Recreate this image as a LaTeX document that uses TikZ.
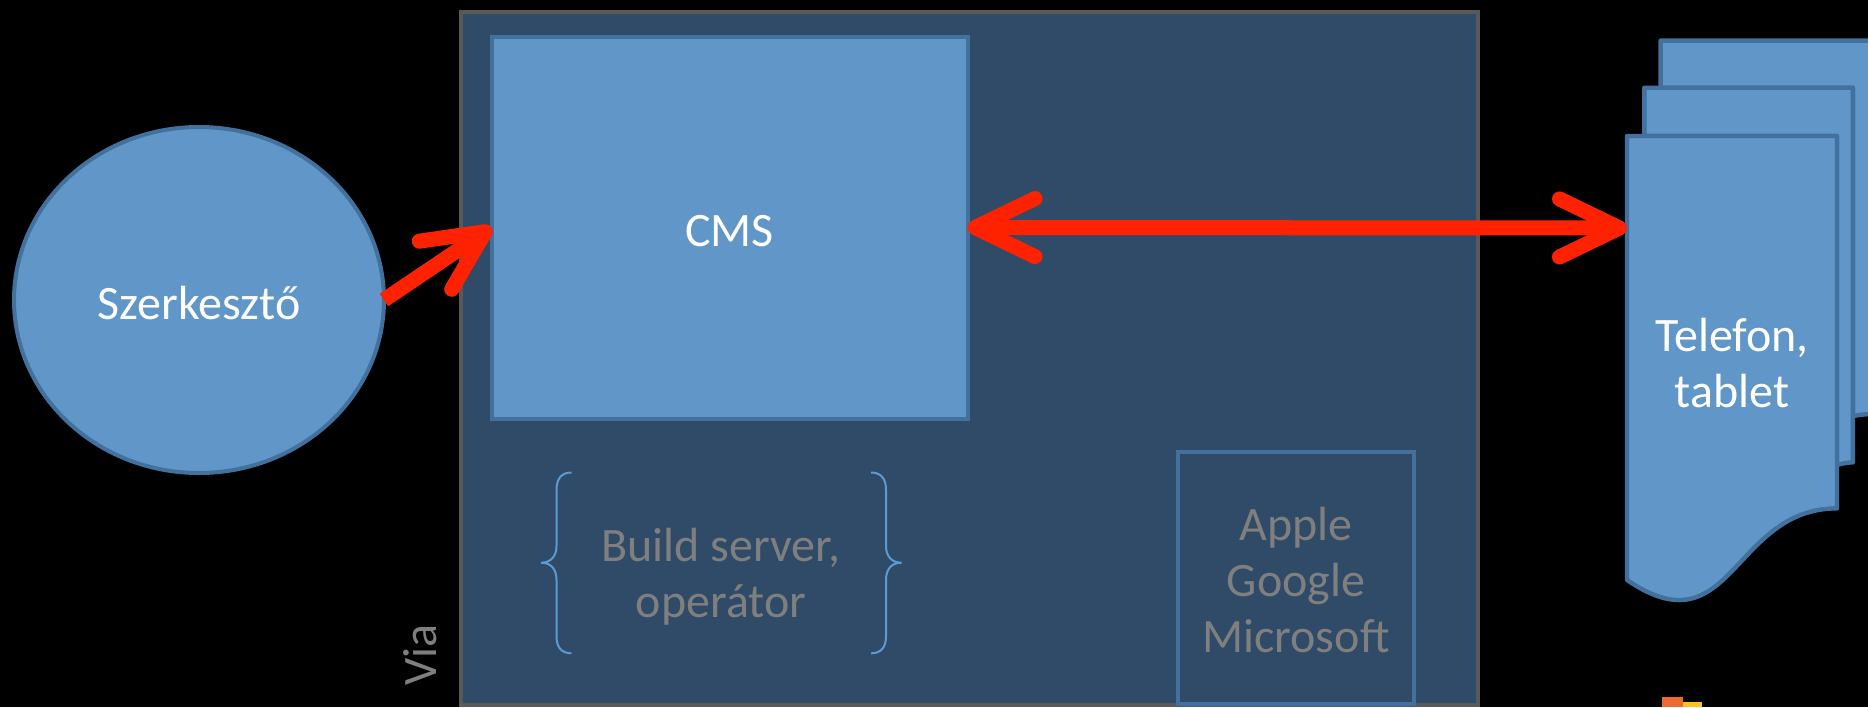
\documentclass[tikz,border=0pt]{standalone}
\usepackage{fontspec}
\setmainfont{Carlito}
\usetikzlibrary{shapes.geometric,arrows.meta}
\definecolor{lblue}{HTML}{6096C8}
\definecolor{dblue}{HTML}{41719C}
\definecolor{navy}{HTML}{2F4B67}
\definecolor{frame}{HTML}{595959}
\definecolor{greytext}{HTML}{7F7F7F}
\definecolor{bracecol}{HTML}{5B9BD5}
\definecolor{arrowred}{HTML}{FF2200}
\definecolor{iconorange}{HTML}{EE6A33}
\definecolor{iconyellow}{HTML}{FFC021}
\tikzset{
  bigfont/.style={font=\fontsize{24pt}{28pt}\selectfont},
  shapebox/.style={draw=dblue, fill=lblue, line width=2pt, outer sep=0pt, inner sep=0pt},
  captext/.style={bigfont, text=white, text height=19.3pt, text depth=0pt},
  multitext/.style={bigfont, align=center, inner sep=0pt},
  barbtip/.tip={Straight Barb[length=30pt, width=29pt, round, line width=7.5pt]},
  redarrow/.style={draw=arrowred, line width=7.5pt, arrows={-barbtip}},
  redarrows/.style={draw=arrowred, line width=7.5pt, arrows={barbtip-barbtip}},
  bracepath/.style={draw=bracecol, line width=1pt},
}
\begin{document}
\begin{tikzpicture}[x=0.5pt, y=-0.5pt]
\useasboundingbox (0,0) rectangle (1868,707);
\fill[black] (0,0) rectangle (1868,707);

% main platform box
\node[draw=frame, fill=navy, line width=2pt, outer sep=0pt, inner sep=0pt,
      minimum width=508.5pt, minimum height=346.5pt] (platform) at (969.5,358.5) {};

% editor
\node[shapebox, ellipse, minimum width=185pt, minimum height=173pt, captext] (szer) at (199,300) {Szerkesztő};

% CMS
\node[shapebox, rectangle, minimum width=238pt, minimum height=191pt, captext] (cms) at (729.5,227.5) {CMS};

% Apple / Google / Microsoft
\node[draw=dblue, line width=2pt, outer sep=0pt, inner sep=0pt,
      minimum width=118pt, minimum height=126pt] (stores) at (1296,578) {};
\node[multitext, text=greytext] (storestext) at (1296,580) {Apple\\Google\\Microsoft};

% build server + braces
\node[multitext, text=greytext] (build) at (721,577) {Build server,\\operátor};
\draw[bracepath] (571.5,472.5) .. controls (562,472.5) and (556.5,478) .. (556.5,490)
  -- (556.5,546) .. controls (556.5,556) and (551,562.7) .. (541,562.7)
  .. controls (551,562.7) and (556.5,569) .. (556.5,580)
  -- (556.5,636) .. controls (556.5,648) and (562,653.3) .. (571.5,653.3);
\draw[bracepath] (871,472.5) .. controls (880.5,472.5) and (886,478) .. (886,490)
  -- (886,546) .. controls (886,556) and (891.5,562.7) .. (901.5,562.7)
  .. controls (891.5,562.7) and (886,569) .. (886,580)
  -- (886,636) .. controls (886,648) and (880.5,653.3) .. (871,653.3);

% Via
\node[bigfont, text=greytext, rotate=90, anchor=base, inner sep=0pt] (via) at (436,655) {Via};

% multidocument (phones)
\begin{scope}[shift={(1627,40.6)}, xscale=0.011293, yscale=0.02596]
  \filldraw[fill=lblue, draw=dblue, line width=2.2pt, line join=round]
    (2972,1815) -- (2972,0) -- (21600,0) -- (21600,14392)
    .. controls (20800,14392) and (20000,14467) .. (20000,14467) -- (20000,1815) -- cycle;
  \filldraw[fill=lblue, draw=dblue, line width=2.2pt, line join=round]
    (1532,3675) -- (1532,1815) -- (20000,1815) -- (20000,16252)
    .. controls (19298,16252) and (18595,16352) .. (18595,16352) -- (18595,3675) -- cycle;
  \filldraw[fill=lblue, draw=dblue, line width=2.2pt, line join=round]
    (0,20782) .. controls (9298,23542) and (9298,18022) .. (18595,18022)
    -- (18595,3675) -- (0,3675) -- cycle;
\end{scope}
\node[multitext, text=white] (phone) at (1732,363) {Telefon,\\tablet};
\coordinate (phonein) at (1627,228);

% small icon at the bottom edge
\fill[iconorange] (1662,697) rectangle (1683,707);
\fill[iconyellow] (1683,702) rectangle (1702,707);

% arrows
\draw[redarrow] (szer.east) -- (cms.west);
\draw[redarrows] (cms.east) -- (phonein);
\end{tikzpicture}
\end{document}
